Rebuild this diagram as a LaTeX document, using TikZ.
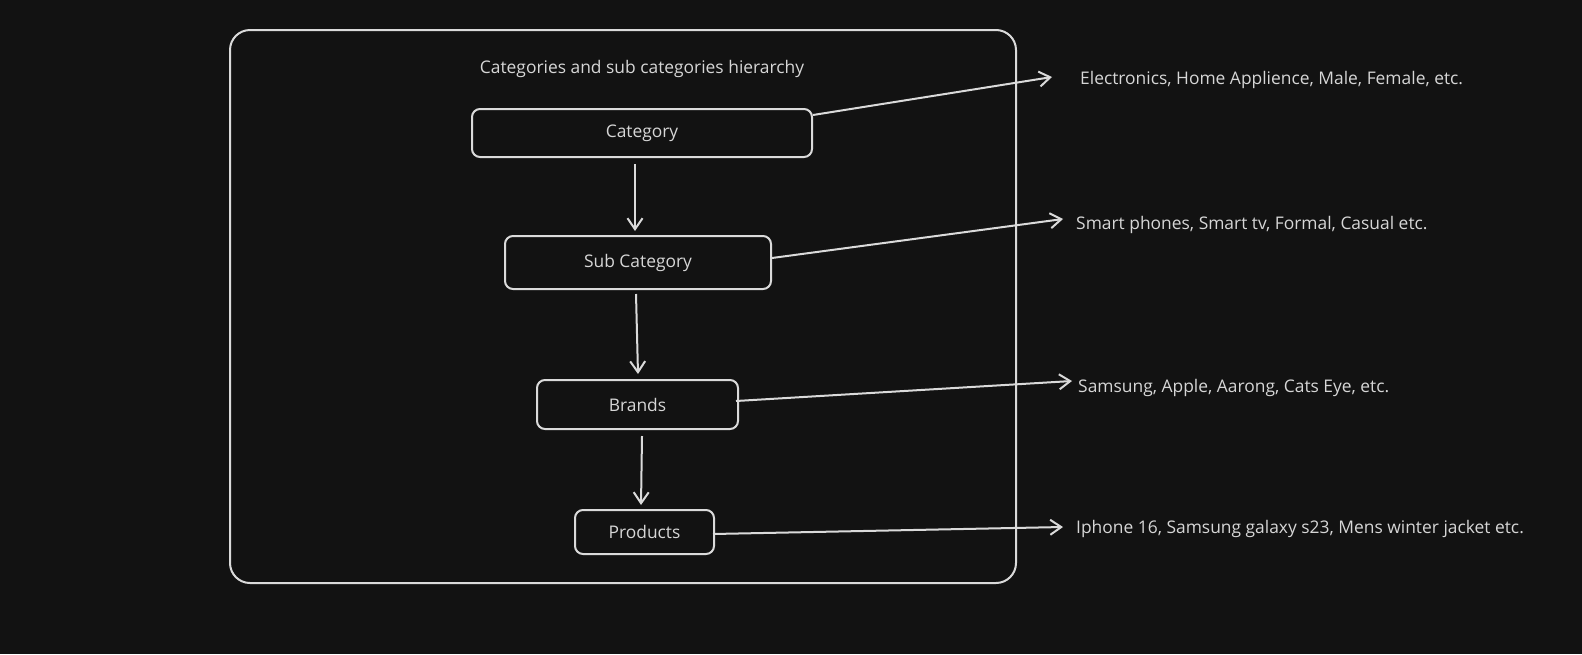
\documentclass[tikz,border=0pt]{standalone}
\usepackage{fontspec}
\setmainfont{Open Sans}
\usetikzlibrary{arrows.meta}
\definecolor{bg}{HTML}{121212}
\definecolor{ink}{HTML}{DADADA}
\definecolor{txt}{HTML}{D6D6D6}
\begin{document}
\begin{tikzpicture}[x=1pt,y=-1pt,
  box/.style={draw=ink, line width=2pt, rounded corners=8pt, inner sep=0pt, text=txt, font=\fontsize{17.4}{20}\selectfont},
  lbl/.style={text=txt, font=\fontsize{17.4}{20}\selectfont, inner sep=0pt},
  conn/.style={draw=ink, line width=2pt, -{Straight Barb[length=11pt,width=15pt,line width=2pt]}}]
\fill[bg] (0,0) rectangle (1582,654);
\useasboundingbox (0,0) rectangle (1582,654);
\draw[ink, line width=2pt, rounded corners=20pt] (230,30) rectangle (1016,583);
\node[lbl] (title) at (642,69) {Categories and sub categories hierarchy};
\node[box, minimum width=340pt, minimum height=48pt] (cat) at (642,133) {Category};
\node[box, minimum width=266pt, minimum height=53pt] (sub) at (638,262.5) {Sub Category};
\node[box, minimum width=201pt, minimum height=49pt] (brand) at (637.5,404.5) {Brands};
\node[box, minimum width=139pt, minimum height=44pt] (prod) at (644.5,532) {Products};
\node[lbl, anchor=west] (t1) at (1080,80) {Electronics, Home Applience, Male, Female, etc.};
\node[lbl, anchor=west] (t2) at (1076,225) {Smart phones, Smart tv, Formal, Casual etc.};
\node[lbl, anchor=west] (t3) at (1078,388) {Samsung, Apple, Aarong, Cats Eye, etc.};
\node[lbl, anchor=west] (t4) at (1076,529) {Iphone 16, Samsung galaxy s23, Mens winter jacket etc.};
\coordinate (e1) at (1052,77);
\coordinate (e2) at (1063,219);
\coordinate (e3) at (1072,381);
\coordinate (e4) at (1063,527);
\draw[conn] ([yshift=-6pt]cat.south -| 635,0) -- ([yshift=4pt]sub.north -| 635,0);
\draw[conn] ([yshift=-4pt]sub.south -| 636,0) -- ([yshift=5pt]brand.north -| 638,0);
\draw[conn] ([yshift=-6pt]brand.south -| 642,0) -- ([yshift=4pt]prod.north -| 641,0);
\draw[conn] (cat.east |- 0,115) -- (e1);
\draw[conn] (sub.east |- 0,258) -- (e2);
\draw[conn] ([xshift=-3pt]brand.east |- 0,401) -- (e3);
\draw[conn] ([xshift=-2pt]prod.east |- 0,534) -- (e4);
\end{tikzpicture}
\end{document}
